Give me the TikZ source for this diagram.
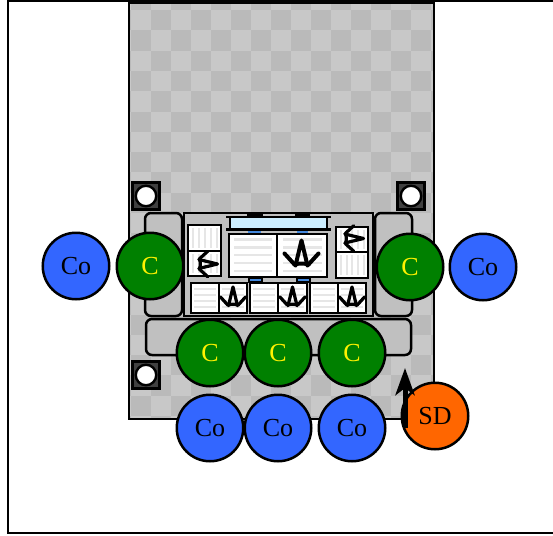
\documentclass[tikz,border=0pt]{standalone}
\usepackage{fontspec}
\setmainfont{Liberation Serif}
\usetikzlibrary{arrows.meta}
\definecolor{chkL}{HTML}{C8C8C8}
\definecolor{chkD}{HTML}{BABABA}
\definecolor{boxgray}{HTML}{C0C0C0}
\definecolor{stripe}{HTML}{E6E6E6}
\definecolor{barblue}{HTML}{CCEEFF}
\definecolor{linkblue}{HTML}{4488DD}
\definecolor{ringblue}{HTML}{3366FF}
\definecolor{sdorange}{HTML}{FF6600}
\definecolor{holegray}{HTML}{404040}
\newcommand{\lowtext}[1]{\raisebox{-1pt}{#1}}
\tikzset{
  ol/.style={draw=black,line width=2.5pt},
  coreC/.style={circle,ol,fill=green!50!black,text=yellow,minimum size=66.5pt,inner sep=0pt,font=\fontsize{26}{26}\selectfont},
  coreCo/.style={circle,ol,fill=ringblue,text=black,minimum size=66.5pt,inner sep=0pt,font=\fontsize{26}{26}\selectfont},
  coreSD/.style={circle,ol,fill=sdorange,text=black,minimum size=66.5pt,inner sep=0pt,font=\fontsize{26}{26}\selectfont},
  pad/.style={ol,fill=boxgray,rounded corners=6pt},
  panel/.style={draw=black,line width=2.7pt,fill=white},
  stripeline/.style={draw=stripe,line width=2.4pt},
  glyphline/.style={draw=black,line width=4pt,line join=round,line cap=round},
  smallglyph/.style={scale=.75,glyphline/.append style={line width=3.2pt}},
  glyph/.pic={
    \draw[glyphline] (-17,-1) -- (-7,10);
    \draw[glyphline] (17,-1) -- (7,10);
    \draw[glyphline] (-6,11) -- (0,-14) -- (6,11);
    \draw[glyphline] (-7,10) -- (-2,9) -- (2,9) -- (7,10);
  }
}
\begin{document}
\begin{tikzpicture}[x=1pt,y=-1pt]
\useasboundingbox (0,0) rectangle (553,535);
\fill[white] (0,0) rectangle (553,535);
% outer frame
\draw[black,line width=2.5pt] (600,1) -- (8,1) -- (8,533) -- (600,533);
% checker floor
\fill[chkL] (130,3) rectangle (434,419);
\begin{scope}
\clip (130,3) rectangle (434,419);
\foreach \i in {-1,...,15}{
  \foreach \j in {-1,...,20}{
    \pgfmathtruncatemacro{\odd}{mod(\i+\j+2,2)}
    \ifnum\odd=1
      \fill[chkD] ({130.7+20*\i},{10+20.3*\j}) rectangle ({150.7+20*\i},{30.3+20.3*\j});
    \fi
  }
}
\end{scope}
\draw[ol] (129,419) rectangle (434,3);
% anchor holes
\foreach \nm/\x/\y in {a/146/196,b/411/196,c/146/375}{
  \node[draw=black,line width=2.2pt,fill=holegray,minimum size=27pt,inner sep=0pt] (hole\nm) at (\x,\y) {};
  \node[circle,draw=black,line width=2.4pt,fill=white,minimum size=20.5pt,inner sep=0pt] (hcirc\nm) at (\x,\y) {};
}
% pads
\draw[pad] (145,213) rectangle (182,316);
\draw[pad] (375,213) rectangle (412,316);
\draw[pad] (146,319) rectangle (411,355);
% central box
\draw[ol,fill=boxgray] (184,213) rectangle (373,316);
% top bar
\fill[black] (247,213) rectangle (263,217);
\fill[black] (295,213) rectangle (310,217);
\fill[barblue] (230,217) rectangle (327,229);
\draw[black,line width=1.5pt] (230,217) -- (230,229) (327,217) -- (327,229);
\draw[black,line width=2.4pt] (226,217) -- (331,217) (226,229.5) -- (331,229.5);
\fill[linkblue] (248,230.5) rectangle (261,233);
\fill[linkblue] (297,230.5) rectangle (308,233);
% links below large panels
\foreach \x in {248,296}{
  \fill[black] (\x,277) rectangle (\x+15,283);
  \fill[linkblue] (\x+2,278.5) rectangle (\x+13,281);
}
% large panels
\draw[panel] (229,234) rectangle (277,277);
\draw[panel] (277,234) rectangle (327,277);
\foreach \y in {239.5,247.5,255,263,271}{
  \draw[stripeline] (234,\y) -- (272,\y);
  \draw[stripeline] (283,\y) -- (322,\y);
}
\pic at (301.5,254.5) {glyph};
% lower small panels
\foreach \a/\b/\c in {191/219/247,250/278/307,310/338/366}{
  \draw[panel] (\a,283) rectangle (\b,313);
  \draw[panel] (\b,283) rectangle (\c,313);
  \foreach \y in {289,295,301,307}{
    \draw[stripeline] (\a+3,\y) -- (\b-3,\y);
    \draw[stripeline] (\b+3,\y) -- (\c-3,\y);
  }
  \pic[smallglyph] at ({(\b+\c)/2},297.5) {glyph};
}
% vertical panels
\draw[panel] (188,225) rectangle (221,251);
\draw[panel] (188,251) rectangle (221,276);
\draw[panel] (336,227) rectangle (368,252);
\draw[panel] (336,252) rectangle (368,278);
\foreach \x in {193,199,205,211,217}{
  \draw[stripeline] (\x,228) -- (\x,248);
  \draw[stripeline] (\x,254) -- (\x,273);
}
\foreach \x in {341,347,352,358,364}{
  \draw[stripeline] (\x,230) -- (\x,249);
  \draw[stripeline] (\x,255) -- (\x,275);
}
\pic[smallglyph,rotate=-90] at (207,264) {glyph};
\pic[smallglyph,rotate=-90] at (353,238.5) {glyph};
% circles
\node[coreCo] (co1) at (76,266) {\lowtext{Co}};
\node[coreC]  (c1)  at (150,266) {\lowtext{C}};
\node[coreC]  (c2)  at (410,267) {\lowtext{C}};
\node[coreCo] (co2) at (483,267) {\lowtext{Co}};
\node[coreC]  (c3)  at (210,353) {\lowtext{C}};
\node[coreC]  (c4)  at (278,353) {\lowtext{C}};
\node[coreC]  (c5)  at (352,353) {\lowtext{C}};
\node[coreCo] (co3) at (210,428) {\lowtext{Co}};
\node[coreCo] (co4) at (278,428) {\lowtext{Co}};
\node[coreCo] (co5) at (352,428) {\lowtext{Co}};
\node[coreSD] (sd)  at (435,416) {\lowtext{SD}};
% arrow
\coordinate (arrS) at (405,428);
\coordinate (arrE) at (405,368);
\draw[line width=5pt,-{Stealth[length=27pt,width=19pt,inset=7pt]}] (arrS) -- (arrE);
\end{tikzpicture}
\end{document}
